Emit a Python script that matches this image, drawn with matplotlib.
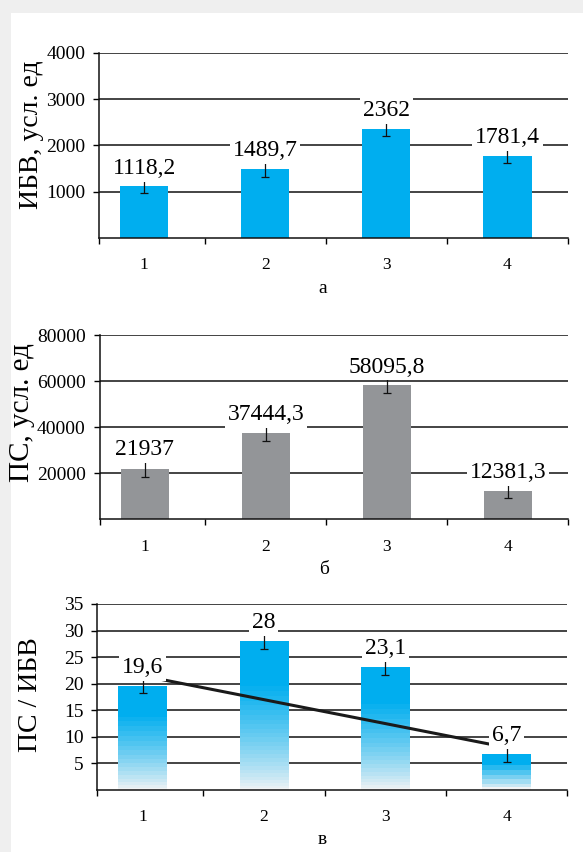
import numpy as np
import matplotlib
matplotlib.use('Agg')
import matplotlib.pyplot as plt
from matplotlib.patches import Rectangle

plt.rcParams['font.family'] = ['Liberation Serif', 'DejaVu Serif']

# данные
groups = ['1', '2', '3', '4']
ibv = [1118.2, 1489.7, 2362, 1781.4]
ibv_err = [150, 170, 160, 170]
ps = [21937, 37444.3, 58095.8, 12381.3]
ps_err = [3600, 3300, 3400, 3300]
ratio = [19.6, 28, 23.1, 6.7]
ratio_err = [1.4, 1.5, 1.5, 1.5]
trend_x = [0, 3]
trend_y = [21.5, 8.0]

blue = '#00aeef'
gray = '#939598'
xpos = np.arange(len(groups))
bw = 0.4
xl = (-0.372, 3.5)

fig = plt.figure(figsize=(5.83, 8.52), dpi=100)
fig.patch.set_facecolor('#efefef')
fig.patches.append(Rectangle((11 / 583, 0), 1, 1 - 13 / 852, transform=fig.transFigure,
                             facecolor='white', edgecolor='none', zorder=-10))


def fmt(v):
    return f'{v:g}'.replace('.', ',')


def setup(ax, ylim, yticks, ylabel, letter, lab_xy, lab_size):
    ax.set_facecolor('none')
    ax.set_xlim(*xl)
    ax.set_ylim(*ylim)
    ax.spines['top'].set_visible(False)
    ax.spines['right'].set_visible(False)
    for s in ['left', 'bottom']:
        ax.spines[s].set_linewidth(1.1)
        ax.spines[s].set_color('#111')
    ax.set_yticks(yticks)
    ax.set_yticklabels([str(t) for t in yticks], fontsize=14)
    ax.tick_params(axis='y', length=4, width=1, pad=6)
    ax.yaxis.grid(True, color='#111', lw=1.1)
    ax.set_axisbelow(True)
    ax.set_xticks([xl[0], 0.5, 1.5, 2.5, xl[1]])
    ax.set_xticklabels([])
    ax.tick_params(axis='x', which='major', length=4, width=1)
    ax.set_xticks(xpos, minor=True)
    ax.set_xticklabels(groups, minor=True, fontsize=12.5)
    ax.tick_params(axis='x', which='minor', length=0, pad=14)
    ax.set_xlabel(letter, fontsize=14)
    ax.xaxis.set_label_coords(0.478, -0.225)
    ax.set_ylabel(ylabel, fontsize=lab_size)
    ax.yaxis.set_label_coords(*lab_xy)


def labels(ax, vals, errs):
    for x, v, e in zip(xpos, vals, errs):
        ax.text(x, v + e, fmt(v), ha='center', va='bottom', fontsize=17, zorder=5,
                bbox=dict(facecolor='white', edgecolor='none', pad=2))


# а
ax1 = fig.add_axes([0.170, 0.7207, 0.804, 0.2171])
ax1.bar(xpos, ibv, bw, color=blue, zorder=2)
ax1.errorbar(xpos, ibv, yerr=ibv_err, fmt='none', ecolor='#111', elinewidth=0.9,
             capsize=3, capthick=0.9, zorder=3)
setup(ax1, (0, 4000), [1000, 2000, 3000, 4000], 'ИБВ, усл. ед', 'а', (-0.117, 0.56), 20)
labels(ax1, ibv, ibv_err)

# б
ax2 = fig.add_axes([0.171, 0.3905, 0.804, 0.2163])
ax2.bar(xpos, ps, bw, color=gray, zorder=2)
ax2.errorbar(xpos, ps, yerr=ps_err, fmt='none', ecolor='#111', elinewidth=0.9,
             capsize=3, capthick=0.9, zorder=3)
setup(ax2, (0, 80000), [20000, 40000, 60000, 80000], 'ПС, усл. ед', 'б', (-0.137, 0.58), 21)
labels(ax2, ps, ps_err)

# в
ax3 = fig.add_axes([0.167, 0.0728, 0.806, 0.2183])
bars = ax3.bar(xpos, ratio, bw, color='none', zorder=2)
top_rgb = np.array(matplotlib.colors.to_rgb(blue))
low_rgb = np.array([0.95, 0.955, 0.96])
for b, v in zip(bars, ratio):
    n = max(5, int(round(0.7 * v * 5.3 / 4)))
    t = np.linspace(0, 1, 400)
    s = np.clip(t / 0.7, 0, 1) ** 0.8
    s = np.floor(s * n) / n
    s[t >= 0.7] = 1
    img = low_rgb * (1 - s[:, None]) + top_rgb * s[:, None]
    im = ax3.imshow(img[:, None, :], origin='lower', aspect='auto', zorder=2,
                    extent=[b.get_x(), b.get_x() + b.get_width(), 0, v],
                    interpolation='nearest')
    im.set_clip_path(b)
ax3.errorbar(xpos, ratio, yerr=ratio_err, fmt='none', ecolor='#111', elinewidth=0.9,
             capsize=3, capthick=0.9, zorder=3)
ax3.plot(trend_x, trend_y, color='#1a1a1a', lw=2.2, zorder=4)
setup(ax3, (0, 35), [5, 10, 15, 20, 25, 30, 35], 'ПС / ИБВ', 'в', (-0.115, 0.51), 20)
ax3.xaxis.set_label_coords(0.478, -0.22)
labels(ax3, ratio, ratio_err)

fig.savefig('out.png', dpi=100)
